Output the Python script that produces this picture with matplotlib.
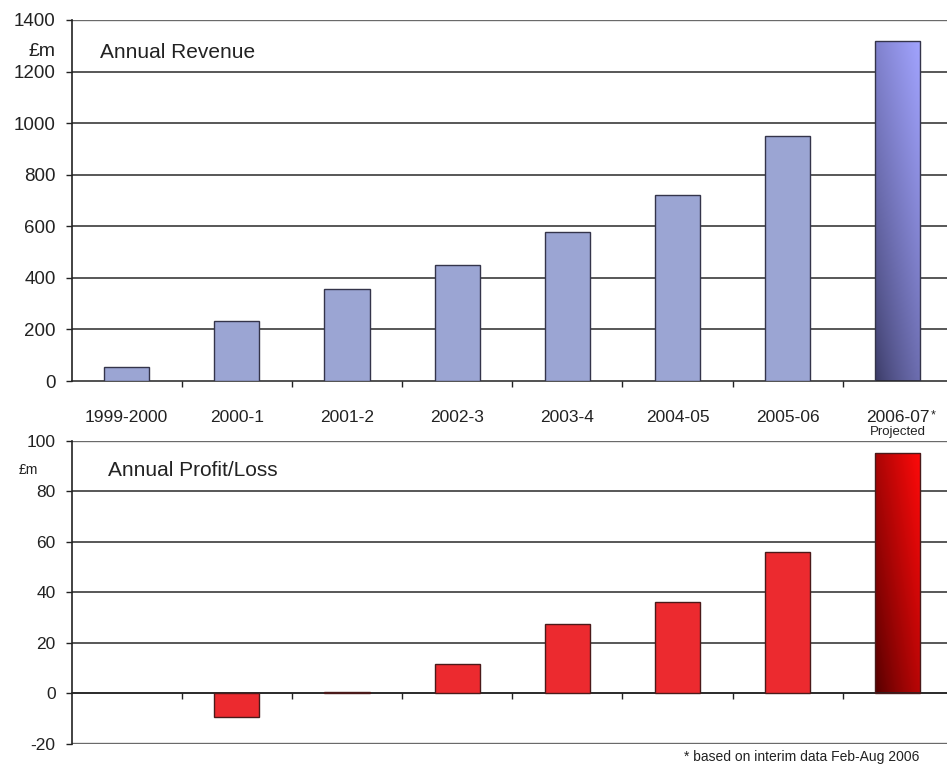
import numpy as np
import matplotlib
matplotlib.use("Agg")
from matplotlib import pyplot as plt
from matplotlib.colors import to_rgb
from matplotlib.transforms import blended_transform_factory

plt.rcParams['font.family'] = ['Liberation Sans', 'DejaVu Sans']
plt.rcParams['axes.unicode_minus'] = False

periods = ['1999-2000', '2000-1', '2001-2', '2002-3', '2003-4', '2004-05', '2005-06', '2006-07']
revenue = [55, 233, 355, 448, 578, 720, 950, 1320]
profit = [np.nan, -9.3, 0.5, 11.6, 27.4, 36, 56, 95]
rev_ticks = [0, 200, 400, 600, 800, 1000, 1200, 1400]
profit_ticks = [-20, 0, 20, 40, 60, 80, 100]

TXT = '#222222'
W, H = 947, 765


def axes_px(fig, left, top, right, bottom):
    return fig.add_axes([left / W, 1 - bottom / H, (right - left) / W, (bottom - top) / H])


def gradient_fill(ax, bar, c0, c1, wx, wy, gamma=1.0):
    # shade one bar from c0 (bottom-left) to c1 (top-right)
    x, y = bar.get_x(), bar.get_y()
    w, h = bar.get_width(), bar.get_height()
    X, Y = np.meshgrid(np.linspace(0, 1, 60), np.linspace(0, 1, 120))
    t = ((wx * X + wy * Y) ** gamma)[..., None]
    img = np.array(to_rgb(c0)) * (1 - t) + np.array(to_rgb(c1)) * t
    im = ax.imshow(img, extent=[x, x + w, y, y + h], origin='lower',
                   aspect='auto', zorder=2.5, interpolation='bilinear')
    im.set_clip_path(bar)
    bar.set_facecolor('none')
    bar.set_zorder(3)


def style_axis(ax, ticks, size):
    ax.set_xlim(-0.5, 7.5)
    ax.set_ylim(ticks[0], ticks[-1])
    for s in ['top', 'right']:
        ax.spines[s].set_visible(False)
    ax.spines['left'].set_color(TXT)
    ax.spines['left'].set_linewidth(1.2)
    ax.spines['bottom'].set_color(TXT)
    ax.spines['bottom'].set_linewidth(1.1)
    ax.set_yticks(ticks)
    ax.tick_params(axis='y', length=4.5, width=1, color=TXT, pad=7,
                   labelsize=size, labelcolor=TXT)
    ax.set_xticks(np.arange(0.5, 7.0, 1.0), minor=True)
    ax.tick_params(axis='x', which='minor', length=4.5, width=1, color=TXT, direction='out')
    for v in ticks[1:]:
        edge = v == ticks[-1]
        ax.axhline(v, color='#6a6a6a' if edge else '#2a2a2a',
                   lw=1.7 if edge else 1.1, zorder=1)
    if ticks[0] < 0:
        ax.axhline(ticks[0], color='#6a6a6a', lw=1.7, zorder=1)


fig = plt.figure(figsize=(W / 100, H / 100), dpi=100)
ax1 = axes_px(fig, 71.5, 20, 953, 381)
ax2 = axes_px(fig, 71.5, 440.7, 953, 744)

x = np.arange(len(periods))

# revenue panel
bars = ax1.bar(x, revenue, width=0.41, color='#9ba5d3', edgecolor='#34344a', lw=1.0, zorder=3)
gradient_fill(ax1, bars[-1], '#383862', '#a2a4ff', 0.4, 0.6, gamma=0.75)
style_axis(ax1, rev_ticks, 13.5)
ax1.set_xticks(x)
ax1.set_xticklabels(periods)
ax1.tick_params(axis='x', which='major', length=0, pad=21, labelsize=12.5, labelcolor=TXT)
tr1 = blended_transform_factory(ax1.transData, ax1.transAxes)
ax1.annotate('*', xy=(7, -0.078), xycoords=tr1, xytext=(23.5, 0),
             textcoords='offset points', ha='left', va='top', fontsize=9, color=TXT)
ax1.text(7, -0.142, 'Projected', transform=tr1, ha='center', va='center',
         fontsize=9.5, color=TXT)
ax1.text(0.0323, 0.911, 'Annual Revenue', transform=ax1.transAxes, va='center',
         fontsize=15, color=TXT)

# profit/loss panel
ok = ~np.isnan(profit)
pbars = ax2.bar(x[ok], np.array(profit)[ok], width=0.41, color='#ec2a2f',
                edgecolor='#4a1a1a', lw=1.0, zorder=3)
gradient_fill(ax2, pbars[-1], '#520000', '#ff0a0a', 0.55, 0.45, gamma=0.85)
style_axis(ax2, profit_ticks, 12.5)
ax2.spines['bottom'].set_position(('data', 0))
ax2.set_xticks([])
ax2.text(0.0414, 0.903, 'Annual Profit/Loss', transform=ax2.transAxes, va='center',
         fontsize=15, color=TXT)

fig.text(55 / W, 1 - 52 / H, '£m', ha='right', va='center', fontsize=14, color=TXT)
fig.text(38 / W, 1 - 470 / H, '£m', ha='right', va='center', fontsize=10, color=TXT)
fig.text(919 / W, 1 - 757 / H, '* based on interim data Feb-Aug 2006', ha='right',
         va='center', fontsize=10, color=TXT)

fig.savefig('out.png', dpi=100)
